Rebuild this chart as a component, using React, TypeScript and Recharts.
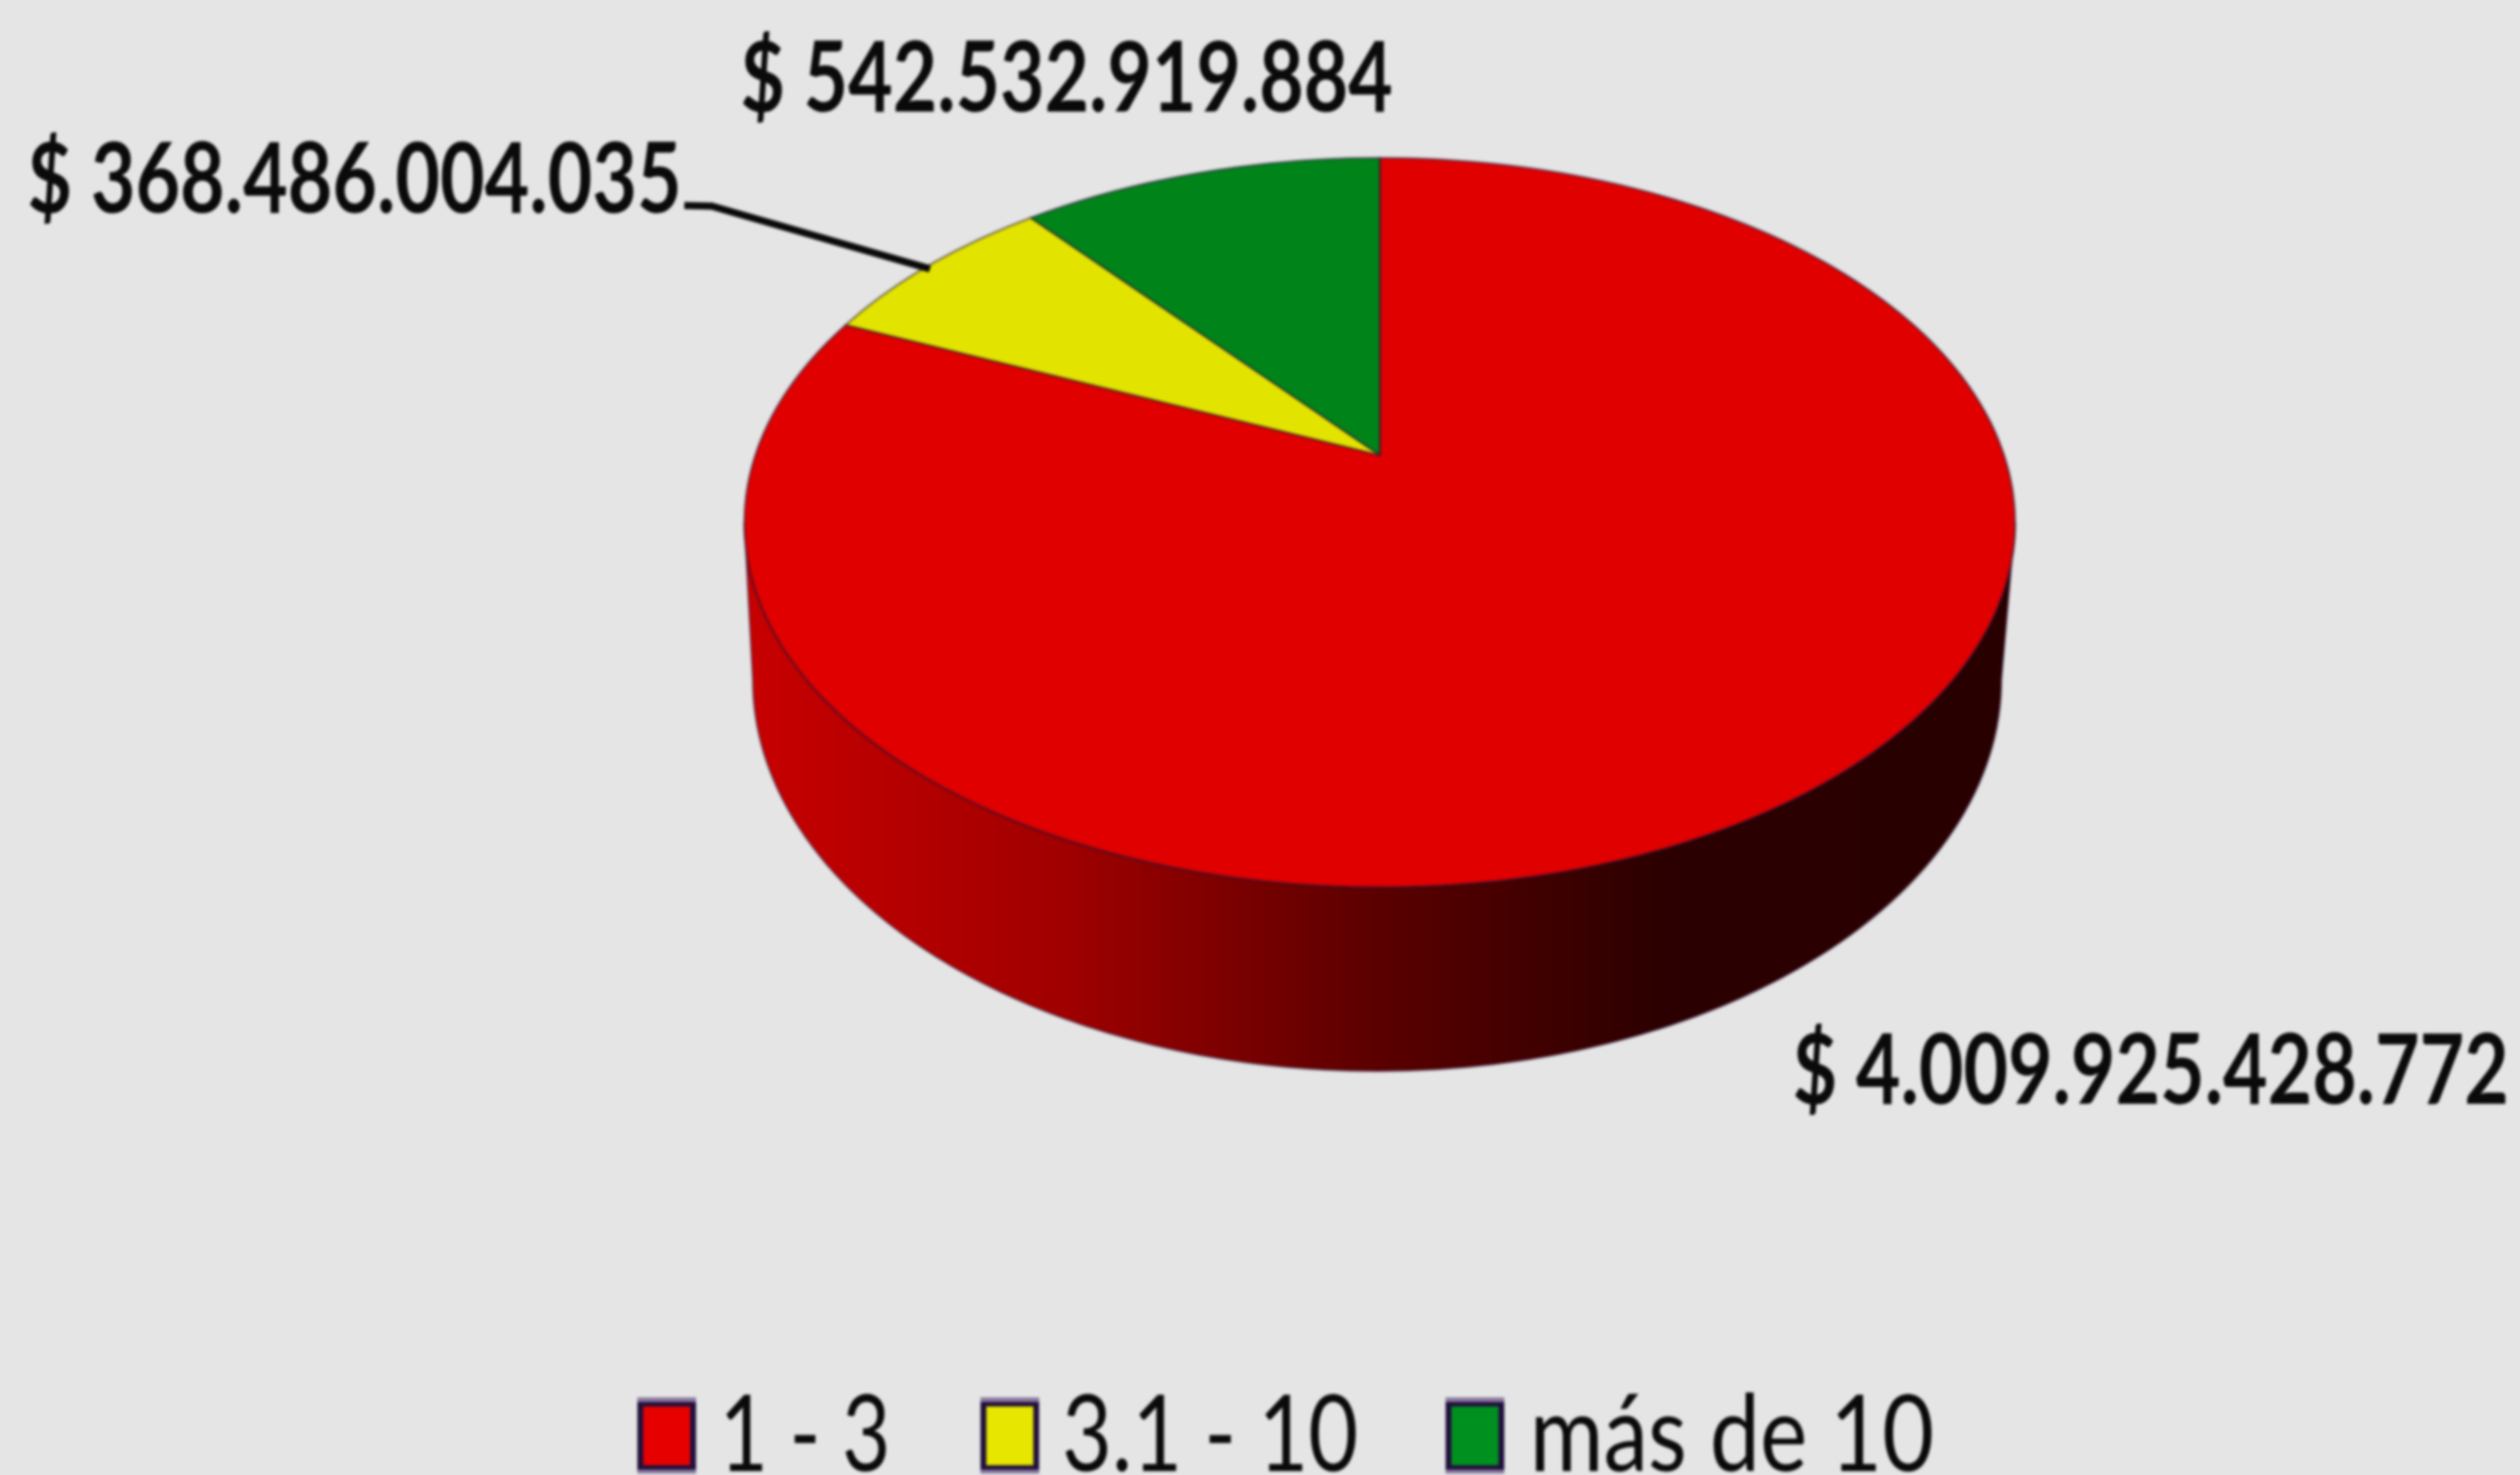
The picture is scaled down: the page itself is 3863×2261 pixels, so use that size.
import React from "react";
import { PieChart, Pie, Legend } from "recharts";

const categories = ["1 - 3", "3.1 - 10", "más de 10"];
const amounts = [4009925428772, 368486004035, 542532919884];
const colors = ["#e00000", "#e3e300", "#00841a"];
const swatchColors = ["#e60000", "#e6e600", "#00901f"];
const tableData = categories.map((name, i) => ({ name, value: amounts[i], fill: colors[i] }));

const W = 3863;
const H = 2261;
const CX = 2115;
const CY = 801;
const RX = 974;
const SQUASH = 559 / 974;
const APEX_SHIFT = 0.185; // perspective shift of the pie centre
const K = 0.829; // perspective compression of the angles
const DEPTH = 241;
const BOTTOM_RX = 957;
const BOTTOM_RY = 600;

const FONT = "Lato, 'Open Sans', sans-serif";

const labelLayout = [
  { x: 2748, y: 1692, w: 1098 },
  { x: 42, y: 326, w: 1003 },
  { x: 1135, y: 171, w: 1000 },
];
const legendLayout = [
  { sx: 977, tx: 1103, tw: 262 },
  { sx: 1503, tx: 1628, tw: 454 },
  { sx: 2216, tx: 2345, tw: 620 },
];

function rimPoint(angle: number, cx: number, cy: number, r: number) {
  // angle in Recharts convention (degrees counter-clockwise from east)
  const theta = ((90 - angle) * Math.PI) / 180;
  const phi = 2 * Math.atan2(K * Math.sin(theta / 2), Math.cos(theta / 2));
  return { x: cx + r * Math.sin(phi), y: cy - r * SQUASH * Math.cos(phi), phi };
}

function Sector3D(props: any) {
  const { cx, cy, outerRadius, startAngle, endAngle, fill, index } = props;
  const ry = outerRadius * SQUASH;
  const apexY = cy - APEX_SHIFT * ry;
  const a = rimPoint(startAngle, cx, cy, outerRadius);
  const b = rimPoint(endAngle, cx, cy, outerRadius);
  const large = Math.abs(b.phi - a.phi) > Math.PI ? 1 : 0;
  const top = `M${cx},${apexY} L${a.x},${a.y} A${outerRadius},${ry} 0 ${large} 1 ${b.x},${b.y} Z`;
  const side =
    `M${cx - outerRadius},${cy} L${cx - BOTTOM_RX - 4},${cy + DEPTH} ` +
    `A${BOTTOM_RX},${BOTTOM_RY} 0 0 0 ${cx - 4 + BOTTOM_RX},${cy + DEPTH} ` +
    `L${cx + outerRadius},${cy} A${outerRadius},${ry} 0 0 1 ${cx - outerRadius},${cy} Z`;
  return (
    <g>
      {index === 0 && <path d={side} fill="url(#sideGrad)" stroke="#2a1030" strokeOpacity={0.5} strokeWidth={3} />}
      <path d={top} fill={fill} stroke="#1f1030" strokeOpacity={0.55} strokeWidth={3} strokeLinejoin="round" />
    </g>
  );
}

const money = (v: number) => "$ " + String(v).replace(/\B(?=(\d{3})+(?!\d))/g, ".");

function renderLabel(props: any) {
  const { index, value } = props;
  const l = labelLayout[index];
  return (
    <text
      x={l.x}
      y={l.y}
      fontFamily={FONT}
      fontWeight={700}
      fontSize={150}
      fill="#0a0a0a"
      textLength={l.w}
      lengthAdjust="spacingAndGlyphs"
    >
      {money(value)}
    </text>
  );
}

function renderLine(props: any) {
  const { index, cx, cy, outerRadius, startAngle, endAngle, midAngle } = props;
  if (index !== 1) return <g />;
  const angle = midAngle ?? (startAngle + endAngle) / 2;
  const end = rimPoint(angle, cx ?? CX, cy ?? CY, outerRadius ?? RX);
  const l = labelLayout[index];
  const sx = l.x + l.w + 4;
  const sy = l.y - 11;
  const kneeX = sx + 42;
  const kneeY = sy + 1;
  return (
    <path
      d={`M${sx},${sy} L${kneeX},${kneeY} L${end.x},${end.y + 6}`}
      stroke="#0a0a0a"
      strokeWidth={11}
      fill="none"
    />
  );
}

function renderLegend(props: any) {
  const items = props.payload ?? [];
  return (
    <svg width={W} height={H} style={{ position: "absolute", left: 0, top: 0, display: "block" }}>
      {items.map((item: any, i: number) => {
        const p = legendLayout[i];
        return (
          <g key={item.value}>
            <rect x={p.sx} y={2142} width={90} height={117} fill="#8c78a0" />
            <rect x={p.sx} y={2149} width={90} height={104} fill="#20103c" />
            <rect x={p.sx + 9} y={2156} width={72} height={90} fill={swatchColors[i]} />
            <text
              x={p.tx}
              y={2255}
              fontFamily={FONT}
              fontSize={163}
              fill="#0a0a0a"
              textLength={p.tw}
              lengthAdjust="spacingAndGlyphs"
            >
              {item.value}
            </text>
          </g>
        );
      })}
    </svg>
  );
}

export default function App() {
  return (
    <div style={{ position: "absolute", left: 0, top: 0, width: W, height: H, background: "#e5e5e5", overflow: "hidden" }}>
      <div style={{ filter: "blur(2.2px)", width: W, height: H }}>
        <PieChart width={W} height={H} margin={{ top: 0, right: 0, bottom: 0, left: 0 }}>
          <defs>
            <linearGradient id="sideGrad" x1="0" y1="0" x2="1" y2="0">
              <stop offset="0" stopColor="#c80000" />
              <stop offset="0.25" stopColor="#a00000" />
              <stop offset="0.5" stopColor="#5a0000" />
              <stop offset="0.72" stopColor="#2c0000" />
              <stop offset="1" stopColor="#280000" />
            </linearGradient>
          </defs>
          <Pie
            data={tableData}
            dataKey="value"
            nameKey="name"
            cx={CX}
            cy={CY}
            innerRadius={0}
            outerRadius={RX}
            startAngle={90}
            endAngle={-270}
            paddingAngle={0}
            stroke="none"
            isAnimationActive={false}
            shape={Sector3D}
            label={renderLabel}
            labelLine={renderLine}
          />
          <Legend content={renderLegend} wrapperStyle={{ left: 0, top: 0, bottom: "auto", width: W, height: H, pointerEvents: "none" }} />
        </PieChart>
      </div>
    </div>
  );
}
